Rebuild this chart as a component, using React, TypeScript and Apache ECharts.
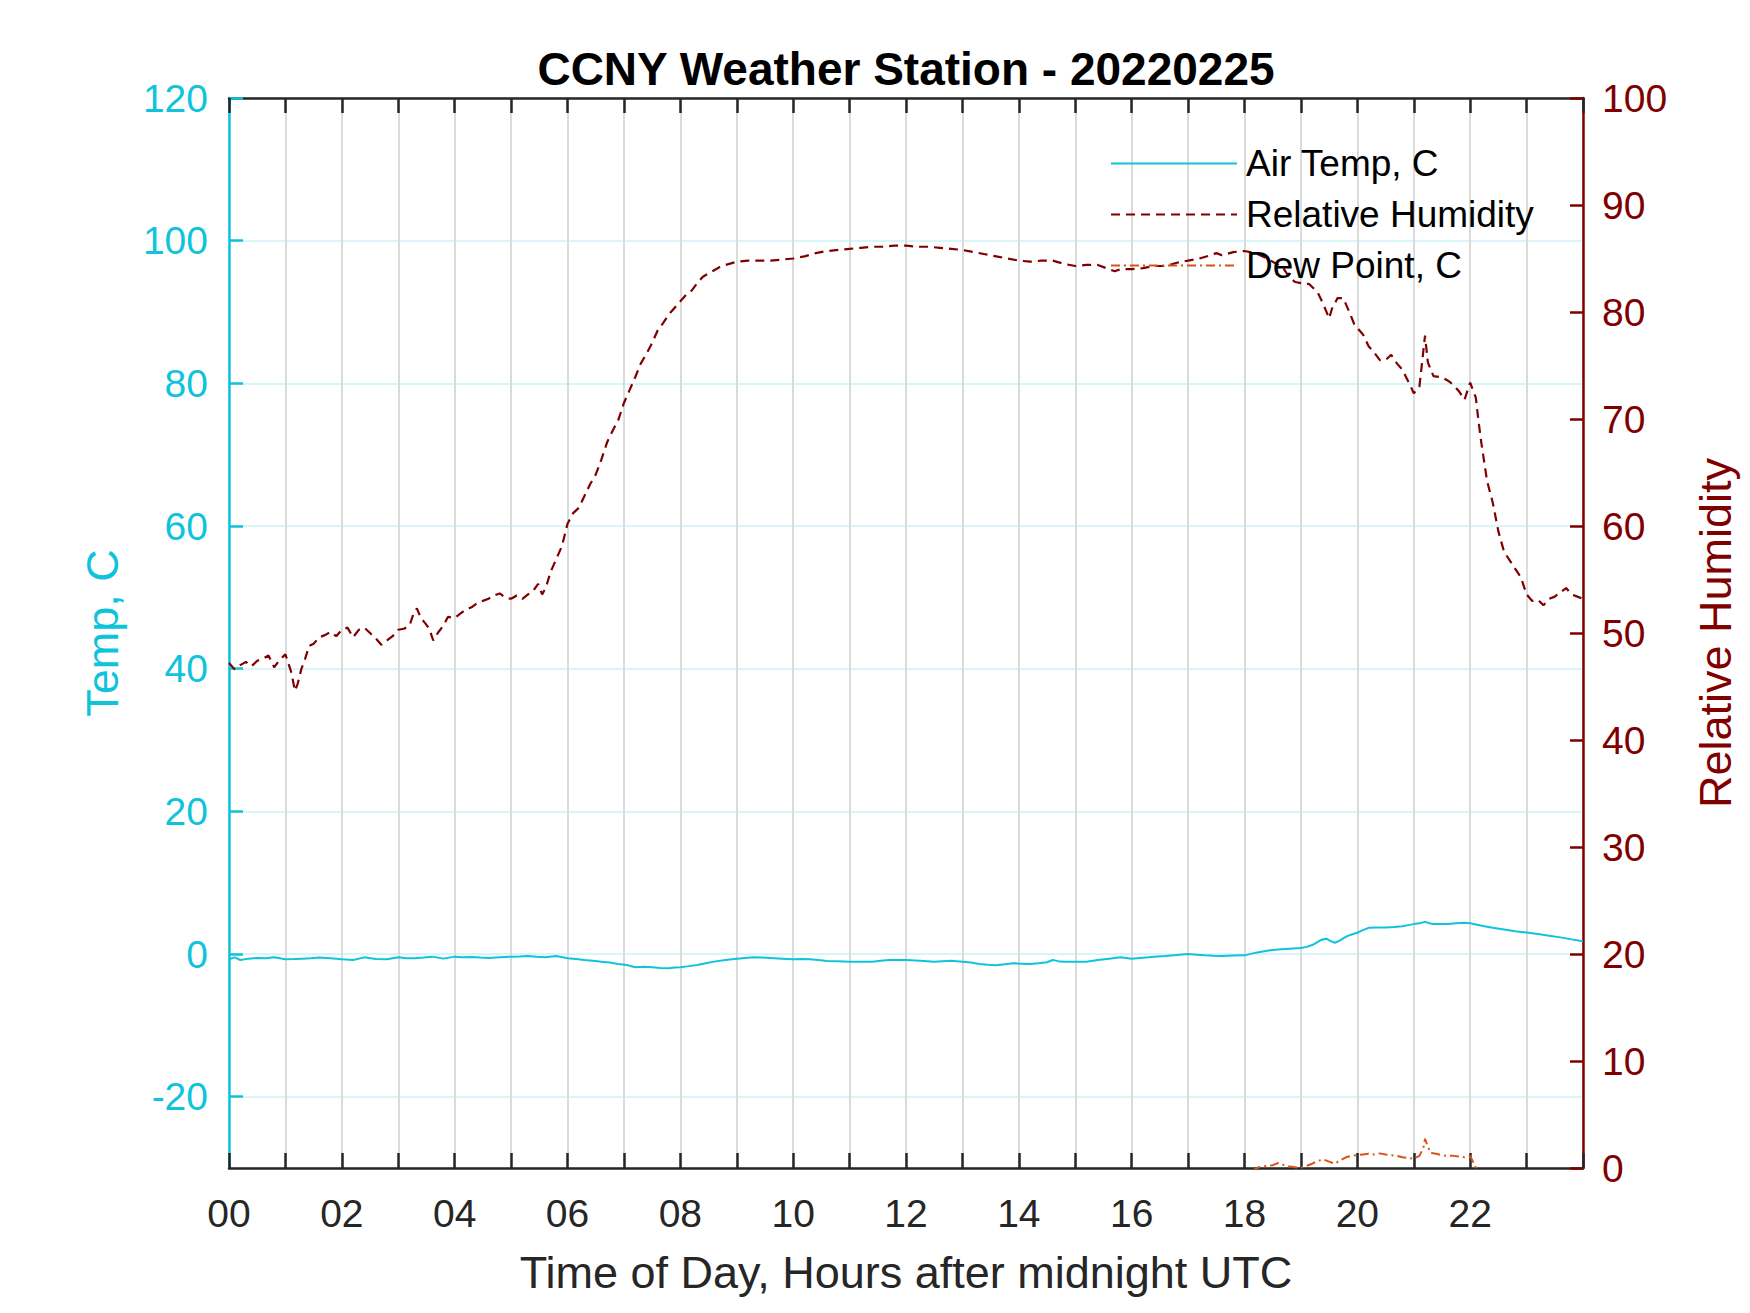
import React, { useEffect, useRef } from "react";
import * as echarts from "echarts";

const TITLE = "CCNY Weather Station - 20220225";
const X_NAME = "Time of Day, Hours after midnight UTC";
const Y_LEFT_NAME = "Temp, C";
const Y_RIGHT_NAME = "Relative Humidity";
const SERIES_NAMES = ["Air Temp, C", "Relative Humidity", "Dew Point, C"];

// [hour, value] pairs
const AIR_TEMP: number[][] = [
  [0.0, -0.74], [0.1, -0.47], [0.2, -0.84], [0.35, -0.65], [0.5, -0.56], [0.65, -0.6], [0.8, -0.47],
  [1.0, -0.74], [1.15, -0.7], [1.3, -0.65], [1.45, -0.6], [1.6, -0.5], [1.8, -0.6], [2.0, -0.74],
  [2.2, -0.84], [2.4, -0.47], [2.6, -0.7], [2.8, -0.74], [3.0, -0.47], [3.15, -0.6], [3.3, -0.6],
  [3.45, -0.5], [3.6, -0.37], [3.8, -0.65], [4.0, -0.37], [4.15, -0.45], [4.3, -0.42], [4.45, -0.5],
  [4.6, -0.56], [4.8, -0.45], [5.0, -0.37], [5.15, -0.35], [5.3, -0.28], [5.45, -0.4], [5.6, -0.47],
  [5.8, -0.28], [6.0, -0.6], [6.15, -0.7], [6.3, -0.84], [6.45, -0.95], [6.6, -1.07], [6.75, -1.2],
  [6.9, -1.4], [7.05, -1.55], [7.2, -1.86], [7.35, -1.8], [7.5, -1.86], [7.65, -1.95], [7.8, -2.0],
  [7.9, -1.9], [8.0, -1.86], [8.15, -1.7], [8.3, -1.53], [8.45, -1.3], [8.6, -1.07], [8.8, -0.85],
  [9.0, -0.65], [9.15, -0.55], [9.3, -0.47], [9.45, -0.5], [9.6, -0.56], [9.8, -0.65], [10.0, -0.74],
  [10.15, -0.7], [10.3, -0.74], [10.45, -0.85], [10.6, -0.98], [10.8, -1.0], [11.0, -1.07],
  [11.2, -1.1], [11.4, -1.07], [11.55, -0.95], [11.7, -0.84], [12.0, -0.84], [12.25, -0.95],
  [12.5, -1.1], [12.65, -1.0], [12.8, -0.93], [13.0, -1.07], [13.15, -1.2], [13.3, -1.4],
  [13.45, -1.5], [13.6, -1.58], [13.75, -1.45], [13.9, -1.3], [14.05, -1.35], [14.2, -1.4],
  [14.35, -1.3], [14.5, -1.16], [14.6, -0.84], [14.7, -1.0], [14.8, -1.07], [15.0, -1.1],
  [15.2, -1.1], [15.4, -0.84], [15.6, -0.65], [15.8, -0.47], [16.0, -0.65], [16.15, -0.55],
  [16.3, -0.47], [16.45, -0.35], [16.6, -0.28], [16.8, -0.15], [17.0, 0.0], [17.15, -0.1],
  [17.3, -0.19], [17.45, -0.25], [17.6, -0.28], [17.8, -0.22], [18.0, -0.19], [18.2, 0.19],
  [18.35, 0.4], [18.5, 0.56], [18.65, 0.65], [18.8, 0.74], [19.0, 0.84], [19.1, 1.0], [19.2, 1.26],
  [19.28, 1.6], [19.35, 1.95], [19.45, 2.14], [19.52, 1.85], [19.6, 1.58], [19.68, 1.85],
  [19.75, 2.19], [19.82, 2.5], [19.9, 2.74], [20.0, 2.98], [20.1, 3.35], [20.2, 3.67], [20.35, 3.7],
  [20.5, 3.72], [20.65, 3.8], [20.8, 3.9], [20.9, 4.05], [21.0, 4.19], [21.1, 4.3], [21.2, 4.5],
  [21.28, 4.3], [21.35, 4.19], [21.5, 4.2], [21.6, 4.19], [21.75, 4.3], [21.9, 4.37], [22.0, 4.3],
  [22.1, 4.14], [22.25, 3.9], [22.4, 3.67], [22.6, 3.45], [22.8, 3.2], [23.0, 3.0], [23.2, 2.79],
  [23.4, 2.55], [23.6, 2.33], [23.8, 2.05], [24.0, 1.8],
];

const REL_HUMIDITY: number[][] = [
  [0.0, 47.2], [0.1, 46.6], [0.2, 47.0], [0.3, 47.3], [0.4, 46.9], [0.5, 47.4], [0.6, 47.6],
  [0.7, 47.9], [0.8, 46.8], [0.9, 47.5], [1.0, 48.0], [1.1, 46.4], [1.17, 44.6], [1.22, 45.3],
  [1.28, 46.6], [1.35, 47.6], [1.42, 48.8], [1.5, 49.0], [1.6, 49.6], [1.7, 49.8], [1.8, 50.1],
  [1.9, 49.7], [2.0, 50.3], [2.1, 50.5], [2.2, 49.6], [2.3, 50.3], [2.4, 50.5], [2.5, 50.0],
  [2.6, 49.5], [2.7, 48.9], [2.8, 49.3], [2.9, 49.7], [3.0, 50.3], [3.1, 50.4], [3.2, 50.7],
  [3.27, 51.8], [3.33, 52.3], [3.4, 51.4], [3.48, 50.9], [3.55, 50.4], [3.62, 49.3], [3.7, 50.0],
  [3.8, 50.7], [3.88, 51.5], [4.0, 51.4], [4.1, 51.8], [4.2, 52.2], [4.3, 52.4], [4.4, 52.8],
  [4.5, 53.0], [4.6, 53.2], [4.7, 53.5], [4.8, 53.7], [4.9, 53.3], [5.0, 53.2], [5.1, 53.5],
  [5.2, 53.2], [5.3, 53.6], [5.4, 54.0], [5.48, 54.6], [5.55, 53.6], [5.62, 54.3], [5.7, 55.7],
  [5.8, 56.9], [5.9, 58.1], [6.0, 60.2], [6.1, 61.2], [6.2, 61.7], [6.3, 62.8], [6.4, 63.9],
  [6.5, 64.8], [6.6, 66.2], [6.7, 67.8], [6.8, 68.9], [6.9, 69.9], [7.0, 71.5], [7.1, 72.7],
  [7.2, 73.9], [7.3, 75.2], [7.4, 76.1], [7.5, 77.1], [7.6, 78.3], [7.7, 79.0], [7.8, 79.8],
  [7.9, 80.4], [8.0, 81.0], [8.1, 81.6], [8.2, 82.0], [8.3, 82.7], [8.4, 83.3], [8.5, 83.6],
  [8.6, 83.9], [8.7, 84.2], [8.8, 84.4], [9.0, 84.7], [9.2, 84.8], [9.4, 84.8], [9.6, 84.8],
  [9.8, 84.9], [10.0, 85.0], [10.2, 85.2], [10.4, 85.5], [10.6, 85.7], [10.8, 85.8], [11.0, 85.9],
  [11.2, 86.0], [11.4, 86.1], [11.6, 86.1], [11.8, 86.2], [12.0, 86.2], [12.2, 86.1], [12.4, 86.1],
  [12.6, 86.0], [12.8, 85.9], [13.0, 85.8], [13.2, 85.6], [13.4, 85.4], [13.6, 85.2], [13.8, 85.0],
  [14.0, 84.8], [14.2, 84.7], [14.4, 84.8], [14.6, 84.8], [14.8, 84.5], [15.0, 84.3], [15.2, 84.4],
  [15.4, 84.4], [15.6, 84.0], [15.7, 83.8], [15.8, 84.0], [16.0, 84.0], [16.2, 84.1], [16.4, 84.3],
  [16.6, 84.3], [16.8, 84.6], [17.0, 84.8], [17.2, 85.0], [17.4, 85.3], [17.5, 85.5], [17.6, 85.3],
  [17.8, 85.6], [18.0, 85.7], [18.2, 85.5], [18.4, 85.0], [18.6, 84.4], [18.7, 84.0], [18.8, 83.2],
  [18.9, 82.8], [19.0, 82.7], [19.15, 82.6], [19.3, 81.8], [19.4, 80.7], [19.5, 79.4],
  [19.55, 80.3], [19.65, 81.3], [19.75, 81.3], [19.85, 80.1], [19.95, 78.8], [20.1, 77.9],
  [20.2, 76.8], [20.3, 76.2], [20.4, 75.5], [20.5, 75.5], [20.6, 76.0], [20.7, 75.2], [20.8, 74.6],
  [20.95, 73.0], [21.0, 72.4], [21.1, 73.0], [21.2, 77.8], [21.25, 75.3], [21.35, 74.0],
  [21.5, 73.9], [21.6, 73.6], [21.7, 73.2], [21.8, 72.6], [21.9, 71.8], [22.0, 73.4], [22.1, 72.0],
  [22.15, 69.7], [22.2, 67.7], [22.3, 64.2], [22.4, 62.2], [22.5, 59.5], [22.6, 57.6],
  [22.75, 56.4], [22.9, 55.2], [23.0, 53.6], [23.1, 53.0], [23.2, 53.1], [23.3, 52.6], [23.4, 53.2],
  [23.5, 53.4], [23.6, 53.8], [23.7, 54.2], [23.8, 53.6], [23.9, 53.4], [24.0, 53.2],
];

const DEW_POINT: number[][] = [
  [0.0, -34], [4.0, -35], [8.0, -36], [12.0, -35], [16.0, -33], [18.0, -31.0], [18.15, -30.3],
  [18.25, -29.9], [18.4, -29.7], [18.5, -29.6], [18.6, -29.3], [18.7, -29.6], [18.8, -29.8],
  [18.9, -29.9], [19.0, -29.95], [19.1, -29.7], [19.2, -29.4], [19.3, -29.0], [19.4, -28.8],
  [19.5, -29.1], [19.6, -29.4], [19.7, -28.9], [19.8, -28.5], [19.9, -28.3], [20.0, -28.2],
  [20.1, -28.1], [20.2, -28.0], [20.3, -28.1], [20.4, -27.95], [20.5, -28.1], [20.6, -28.2],
  [20.7, -28.3], [20.8, -28.5], [20.9, -28.6], [21.0, -28.7], [21.1, -28.3], [21.17, -27.2],
  [21.2, -25.9], [21.25, -27.0], [21.3, -27.9], [21.4, -28.0], [21.5, -28.2], [21.6, -28.3],
  [21.7, -28.3], [21.8, -28.4], [21.9, -28.5], [22.0, -28.3], [22.05, -29.1], [22.1, -30.0],
  [22.2, -31.0], [23.0, -32.0], [24.0, -32.0],
];

const X_RANGE = [0, 24];
const TEMP_RANGE = [-30, 120];
const RH_RANGE = [0, 100];

const FONT = "Liberation Sans, Arial, Helvetica, sans-serif";
const CYAN = "#0fc3db";
const DARK_RED = "#800000";
const ORANGE = "#d95319";
const AXIS_DARK = "#262626";

export default function App() {
  const ref = useRef<HTMLDivElement>(null);

  useEffect(() => {
    document.body.style.margin = "0";
    if (!ref.current) return;
    const chart = echarts.init(ref.current, undefined, { renderer: "svg" });

    const xCommon = {
      type: "value",
      min: X_RANGE[0],
      max: X_RANGE[1],
      interval: 1,
      axisLine: { show: true, onZero: false, lineStyle: { color: AXIS_DARK, width: 2.5 } },
      axisTick: { show: true, inside: true, length: 15, lineStyle: { color: AXIS_DARK, width: 2.5 } },
    };

    chart.setOption({
      animation: false,
      backgroundColor: "#ffffff",
      title: {
        text: TITLE,
        left: 906,
        top: 46,
        textAlign: "center",
        padding: 0,
        textStyle: { fontFamily: FONT, fontSize: 46, fontWeight: "bold", color: "#000000" },
      },
      legend: {
        orient: "vertical",
        left: 1110,
        top: 145,
        padding: 0,
        itemWidth: 126,
        itemHeight: 20,
        itemGap: 14,
        data: SERIES_NAMES,
        itemStyle: { opacity: 0, borderWidth: 0 },
        textStyle: {
          fontFamily: FONT,
          fontSize: 37,
          color: "#000000",
          lineHeight: 37,
          padding: [0, 0, 0, 4],
        },
      },
      grid: { left: 229, top: 98, width: 1354, height: 1070, containLabel: false },
      xAxis: [
        {
          ...xCommon,
          position: "bottom",
          name: X_NAME,
          nameLocation: "middle",
          nameGap: 82,
          nameTextStyle: { fontFamily: FONT, fontSize: 45, color: AXIS_DARK },
          axisLabel: {
            fontFamily: FONT,
            fontSize: 39,
            color: AXIS_DARK,
            margin: 26,
            formatter: (v: number) => (v % 2 === 0 && v < 24 ? String(v).padStart(2, "0") : ""),
          },
          splitLine: { show: true, lineStyle: { color: "#dbdbdb", width: 2 } },
        },
        {
          ...xCommon,
          position: "top",
          axisLabel: { show: false },
          splitLine: { show: false },
        },
      ],
      yAxis: [
        {
          type: "value",
          position: "left",
          min: TEMP_RANGE[0],
          max: TEMP_RANGE[1],
          splitNumber: 7,
          minInterval: 20,
          maxInterval: 20,
          name: Y_LEFT_NAME,
          nameLocation: "middle",
          nameRotate: 90,
          nameGap: 104,
          nameTextStyle: { fontFamily: FONT, fontSize: 45, color: CYAN },
          axisLine: { show: true, onZero: false, lineStyle: { color: CYAN, width: 2.5 } },
          axisTick: { show: true, inside: true, length: 14, lineStyle: { color: CYAN, width: 2.5 } },
          axisLabel: {
            fontFamily: FONT,
            fontSize: 39,
            color: CYAN,
            margin: 21,
            showMinLabel: false,
            formatter: (v: number) => (v === TEMP_RANGE[0] ? "" : String(v)),
          },
          splitLine: { show: true, lineStyle: { color: "rgba(15,195,219,0.16)", width: 2 } },
        },
        {
          type: "value",
          position: "right",
          min: RH_RANGE[0],
          max: RH_RANGE[1],
          interval: 10,
          name: Y_RIGHT_NAME,
          nameLocation: "middle",
          nameRotate: 90,
          nameGap: 110,
          nameTextStyle: { fontFamily: FONT, fontSize: 45, color: DARK_RED },
          axisLine: { show: true, onZero: false, lineStyle: { color: DARK_RED, width: 2.5 } },
          axisTick: { show: true, inside: true, length: 13, lineStyle: { color: DARK_RED, width: 2.5 } },
          axisLabel: { fontFamily: FONT, fontSize: 39, color: DARK_RED, margin: 19 },
          splitLine: { show: false },
        },
      ],
      series: [
        {
          name: SERIES_NAMES[0],
          type: "line",
          xAxisIndex: 0,
          yAxisIndex: 0,
          data: AIR_TEMP,
          symbol: "none",
          showSymbol: false,
          clip: true,
          lineStyle: { color: CYAN, width: 2 },
          itemStyle: { color: CYAN },
        },
        {
          name: SERIES_NAMES[1],
          type: "line",
          xAxisIndex: 0,
          yAxisIndex: 1,
          data: REL_HUMIDITY,
          symbol: "none",
          showSymbol: false,
          clip: true,
          lineStyle: { color: DARK_RED, width: 2.2, type: [9, 6] },
          itemStyle: { color: DARK_RED },
        },
        {
          name: SERIES_NAMES[2],
          type: "line",
          xAxisIndex: 0,
          yAxisIndex: 0,
          data: DEW_POINT,
          symbol: "none",
          showSymbol: false,
          clip: true,
          lineStyle: { color: ORANGE, width: 2, type: [9, 4, 2, 4] },
          itemStyle: { color: ORANGE },
        },
      ],
    });

    return () => chart.dispose();
  }, []);

  return <div ref={ref} style={{ width: 1750, height: 1313, overflow: "hidden" }} />;
}
